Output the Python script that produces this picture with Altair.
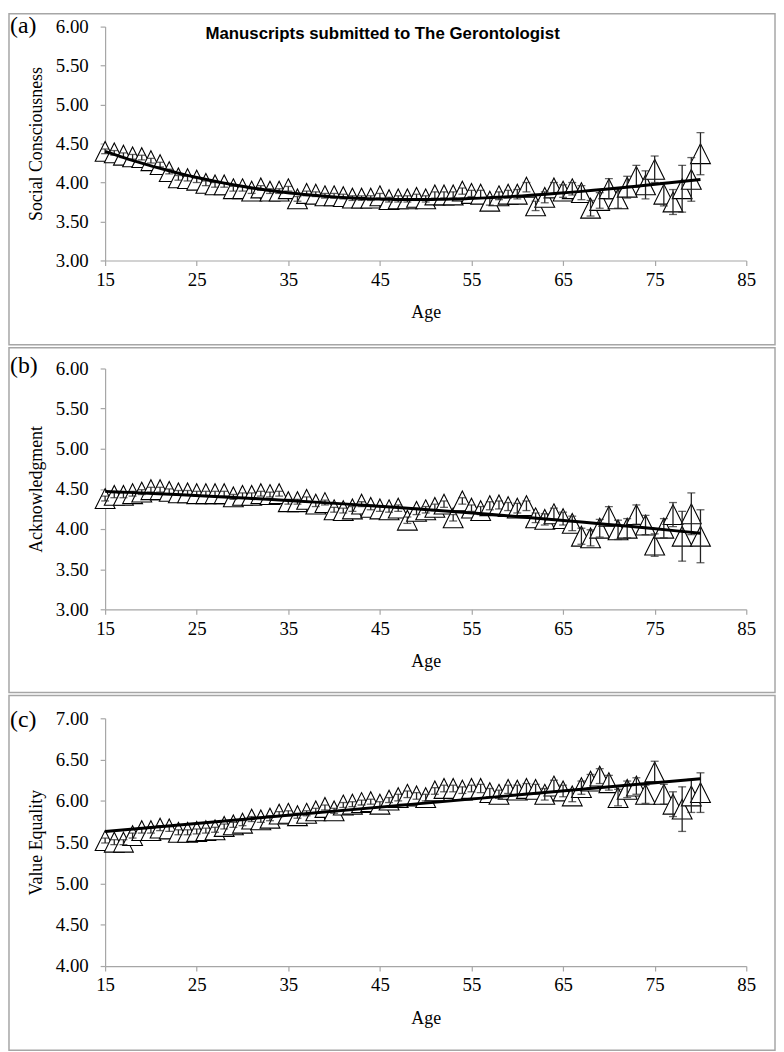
import altair as alt
import pandas as pd

ages = list(range(15, 81))

social = [4.40, 4.38, 4.35, 4.33, 4.32, 4.28, 4.23, 4.14, 4.06, 4.05,
          4.03, 3.99, 3.97, 3.97, 3.92, 3.92, 3.89, 3.93, 3.89, 3.89,
          3.92, 3.79, 3.86, 3.85, 3.83, 3.83, 3.82, 3.80, 3.80, 3.80,
          3.83, 3.78, 3.79, 3.79, 3.81, 3.79, 3.84, 3.84, 3.84, 3.89,
          3.86, 3.85, 3.76, 3.83, 3.85, 3.85, 3.94, 3.70, 3.81, 3.93,
          3.89, 3.92, 3.87, 3.67, 3.77, 3.92, 3.79, 3.94, 4.08, 3.97,
          4.17, 3.85, 3.75, 3.92, 4.04, 4.37]
social_se = [0.03, 0.03, 0.03, 0.03, 0.03, 0.03, 0.03, 0.03, 0.03, 0.03,
             0.03, 0.03, 0.03, 0.03, 0.03, 0.03, 0.03, 0.03, 0.03, 0.03,
             0.03, 0.03, 0.03, 0.03, 0.03, 0.03, 0.03, 0.03, 0.03, 0.03,
             0.03, 0.03, 0.04, 0.04, 0.04, 0.04, 0.04, 0.04, 0.04, 0.04,
             0.04, 0.05, 0.05, 0.05, 0.05, 0.06, 0.06, 0.06, 0.07, 0.07,
             0.08, 0.08, 0.09, 0.10, 0.10, 0.13, 0.12, 0.14, 0.14, 0.18,
             0.17, 0.15, 0.16, 0.30, 0.28, 0.27]
# trend line
social_trend_age = [15, 22, 28, 35, 42, 49, 61, 69, 80]
social_trend = [4.40, 4.15, 3.99, 3.87, 3.80, 3.78, 3.84, 3.90, 4.04]

ack = [4.38, 4.42, 4.42, 4.44, 4.46, 4.49, 4.49, 4.47, 4.45, 4.45,
       4.44, 4.44, 4.44, 4.44, 4.40, 4.42, 4.42, 4.44, 4.43, 4.44,
       4.34, 4.34, 4.37, 4.31, 4.33, 4.24, 4.23, 4.25, 4.31, 4.27,
       4.25, 4.24, 4.26, 4.11, 4.22, 4.24, 4.27, 4.31, 4.14, 4.35,
       4.26, 4.23, 4.29, 4.30, 4.28, 4.26, 4.29, 4.14, 4.12, 4.19,
       4.13, 4.07, 3.91, 3.89, 4.01, 4.16, 3.99, 4.01, 4.18, 4.05,
       3.80, 4.01, 4.18, 3.91, 4.19, 3.91]
ack_se = [0.03, 0.03, 0.03, 0.03, 0.03, 0.03, 0.03, 0.03, 0.03, 0.03,
          0.03, 0.03, 0.03, 0.03, 0.03, 0.03, 0.03, 0.03, 0.03, 0.03,
          0.03, 0.03, 0.03, 0.03, 0.03, 0.03, 0.03, 0.03, 0.03, 0.03,
          0.03, 0.03, 0.04, 0.04, 0.04, 0.04, 0.04, 0.04, 0.04, 0.04,
          0.04, 0.05, 0.05, 0.05, 0.05, 0.06, 0.06, 0.06, 0.07, 0.07,
          0.08, 0.09, 0.10, 0.10, 0.11, 0.12, 0.12, 0.12, 0.12, 0.12,
          0.14, 0.12, 0.15, 0.31, 0.26, 0.33]
ack_trend_age = [15, 32, 49, 65, 80]
ack_trend = [4.47, 4.37, 4.26, 4.10, 3.95]

equality = [5.52, 5.50, 5.50, 5.58, 5.64, 5.64, 5.67, 5.66, 5.62, 5.62,
            5.63, 5.64, 5.65, 5.69, 5.71, 5.73, 5.78, 5.77, 5.79, 5.84,
            5.85, 5.82, 5.85, 5.88, 5.92, 5.88, 5.95, 5.96, 5.98, 5.99,
            5.96, 6.01, 6.04, 6.08, 6.06, 6.04, 6.12, 6.15, 6.15, 6.13,
            6.15, 6.15, 6.10, 6.08, 6.14, 6.13, 6.15, 6.14, 6.08, 6.18,
            6.12, 6.06, 6.16, 6.24, 6.30, 6.22, 6.04, 6.14, 6.18, 6.08,
            6.35, 6.08, 5.96, 5.90, 6.06, 6.10]
equality_se = [0.03, 0.03, 0.03, 0.03, 0.03, 0.03, 0.03, 0.03, 0.03, 0.03,
               0.03, 0.03, 0.03, 0.03, 0.03, 0.03, 0.03, 0.03, 0.03, 0.03,
               0.03, 0.03, 0.03, 0.03, 0.03, 0.03, 0.03, 0.03, 0.03, 0.03,
               0.03, 0.03, 0.04, 0.04, 0.04, 0.04, 0.04, 0.04, 0.04, 0.04,
               0.04, 0.05, 0.05, 0.05, 0.05, 0.06, 0.06, 0.06, 0.07, 0.07,
               0.07, 0.07, 0.08, 0.08, 0.09, 0.09, 0.10, 0.10, 0.10, 0.11,
               0.13, 0.12, 0.15, 0.27, 0.20, 0.24]
equality_trend_age = [15, 49, 80]
equality_trend = [5.63, 5.96, 6.27]

x_ticks = [15, 25, 35, 45, 55, 65, 75, 85]
main_title = "Manuscripts submitted to The Gerontologist"

W = 647
SERIF = "Liberation Serif"
GRAY = "#a6a6a6"
TRI = "M0,-1L1,1L-1,1Z"


def panel(values, se, t_age, t_val, order, tag, ytitle, ydom, yticks, h, box,
          tag_y, title=None):
    df = pd.DataFrame({"age": ages, "value": values, "se": se})
    tdf = pd.DataFrame({"age": t_age, "value": t_val})
    base = alt.Chart(df)
    yscale = alt.Scale(domain=ydom, nice=False, zero=False, padding=0)
    xscale = alt.Scale(domain=[15, 85], nice=False, zero=False, padding=0)
    xaxis = alt.Axis(values=x_ticks, title="Age", format="d", labelFlush=False,
                     titleX=W / 2, titleY=53, titleBaseline="middle",
                     labelPadding=5)
    yaxis = alt.Axis(values=yticks, format=".2f", title=ytitle, labelFlush=False,
                     titleX=-69, titleY=h / 2, titleAngle=270,
                     titleAlign="center", titleBaseline="middle",
                     labelPadding=12)

    def X():
        return alt.X("age:Q", scale=xscale, axis=xaxis)

    def Y(field):
        return alt.Y(field + ":Q", scale=yscale, axis=yaxis)

    one = pd.DataFrame({"k": [0]})
    border = alt.Chart(one).mark_rect(
        fill="transparent", stroke=GRAY, strokeWidth=1.5
    ).encode(
        x=alt.value(box[0]), x2=alt.value(box[1]),
        y=alt.value(box[2]), y2=alt.value(box[3]),
    )

    err = base.transform_calculate(
        lo="datum.value - datum.se", hi="datum.value + datum.se"
    )
    rules = err.mark_rule(color="#222222", strokeWidth=1.3).encode(
        x=X(), y=Y("lo"), y2="hi:Q",
    )
    cap_lo = err.mark_tick(color="#222222", thickness=1.3, size=8,
                           orient="horizontal").encode(x=X(), y=Y("lo"))
    cap_hi = err.mark_tick(color="#222222", thickness=1.3, size=8,
                           orient="horizontal").encode(x=X(), y=Y("hi"))

    pts = base.mark_point(
        shape=TRI, size=400, filled=True, fill="white", stroke="black",
        strokeWidth=1.1, opacity=1,
    ).encode(x=X(), y=Y("value"))

    if order == 1:
        reg = alt.Chart(tdf).transform_regression(
            "age", "value", method="linear", extent=[15, 80])
    else:
        reg = alt.Chart(tdf).transform_regression(
            "age", "value", method="poly", order=order, extent=[15, 80])
    trend = reg.mark_line(color="black", strokeWidth=3).encode(
        x=X(), y=Y("value"),
    )

    tag_text = alt.Chart(one).mark_text(
        font=SERIF, fontSize=24, align="left", baseline="middle", color="black"
    ).encode(x=alt.value(-96), y=alt.value(tag_y), text=alt.value(tag))

    layers = [border, pts, rules, cap_lo, cap_hi, trend, tag_text]
    if title:
        layers.append(alt.Chart(one).mark_text(
            font="Liberation Sans", fontWeight="bold", fontSize=17,
            align="center", baseline="middle", color="black"
        ).encode(x=alt.value(280), y=alt.value(8), text=alt.value(title)))
    return alt.layer(*layers).properties(width=W, height=h)


pa = panel(social, social_se, social_trend_age, social_trend, 3, "(a)",
           "Social Consciousness", [3, 6], [3, 3.5, 4, 4.5, 5, 5.5, 6], 236,
           (-97, 676, -13, 321), -1, title=main_title)
pb = panel(ack, ack_se, ack_trend_age, ack_trend, 2, "(b)", "Acknowledgment",
           [3, 6], [3, 3.5, 4, 4.5, 5, 5.5, 6], 243, (-97, 676, -21, 327), -2)
pc = panel(equality, equality_se, equality_trend_age, equality_trend, 1, "(c)",
           "Value Equality", [4, 7], [4, 4.5, 5, 5.5, 6, 6.5, 7], 250,
           (-97, 676, -23, 335), 2)

chart = alt.vconcat(pa, pb, pc, spacing=1).properties(
    padding=0, background="white"
).configure_view(stroke=None).configure_axis(
    grid=False,
    domainColor=GRAY, domainWidth=1.2,
    tickColor=GRAY, tickSize=5, tickWidth=1.2,
    labelFont=SERIF, labelFontSize=19, labelColor="black",
    titleFont=SERIF, titleFontSize=18, titleFontWeight="normal",
    titleColor="black",
)

chart.save("out.html", embed_options={"renderer": "svg", "actions": False})
